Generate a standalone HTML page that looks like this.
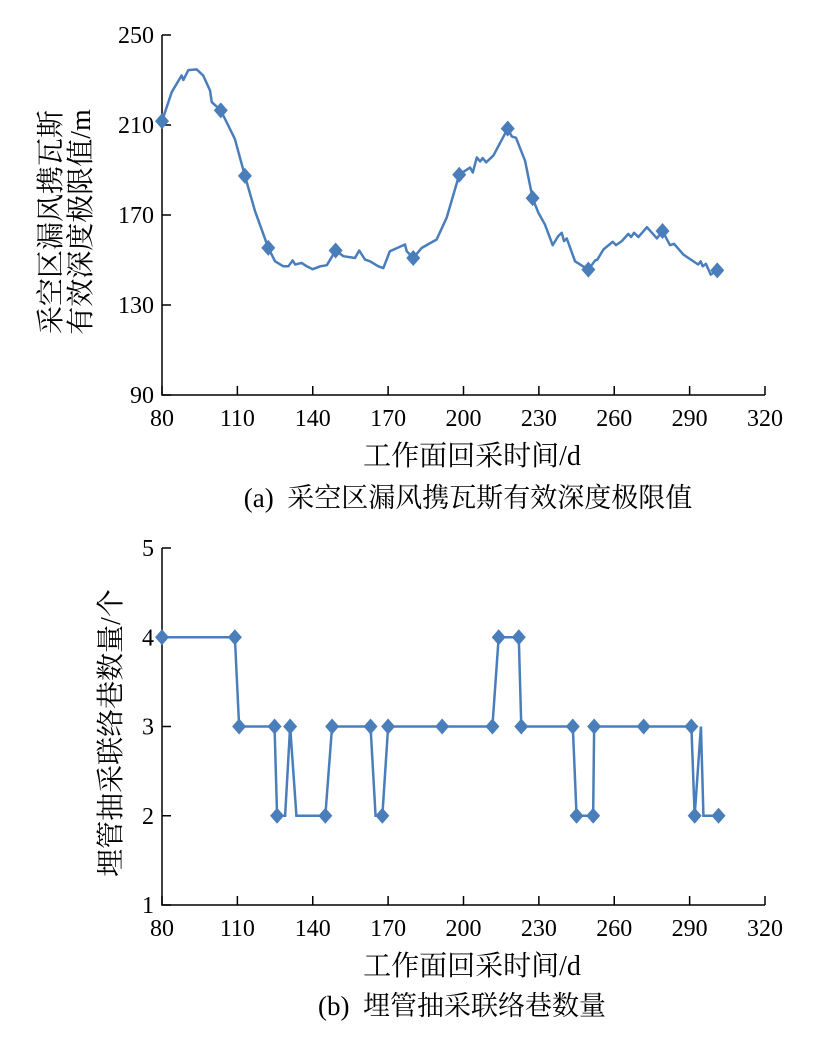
<!DOCTYPE html>
<html><head><meta charset="utf-8">
<style>
body{margin:0;background:#fff;}
svg{display:block;}
text{font-family:"Liberation Serif","Noto Serif CJK SC",serif;fill:#000;}
.cjk{font-family:"Liberation Serif","Noto Serif CJK SC","Noto Sans CJK SC",serif;}
</style></head>
<body>
<svg id="chart" width="813" height="1042" viewBox="0 0 813 1042">
<g id="top"></g>
<g id="bot"></g>
<text transform="translate(60,222) rotate(-90)" text-anchor="middle" font-size="28" class="cjk"><tspan x="0" y="0">采空区漏风携瓦斯</tspan></text>
<text transform="translate(90,222) rotate(-90)" text-anchor="middle" font-size="28" class="cjk"><tspan x="0" y="0">有效深度极限值/m</tspan></text>
<text x="472" y="465" text-anchor="middle" font-size="28" class="cjk">工作面回采时间/d</text>
<text x="468" y="507" text-anchor="middle" font-size="27" class="cjk">(a)&#160;&#160;采空区漏风携瓦斯有效深度极限值</text>
<text transform="translate(120,733) rotate(-90)" text-anchor="middle" font-size="28" class="cjk"><tspan x="0" y="0">埋管抽采联络巷数量/个</tspan></text>
<text x="472" y="975" text-anchor="middle" font-size="28" class="cjk">工作面回采时间/d</text>
<text x="462" y="1015" text-anchor="middle" font-size="27" class="cjk">(b)&#160;&#160;埋管抽采联络巷数量</text>
</svg>
<script>
const xTicks=[80,110,140,170,200,230,260,290,320];
const topYTicks=[90,130,170,210,250];
const topDays=[80,83.9,87.8,88.5,90.5,93.8,96.4,99.1,99.8,103.4,109,113,117,122.3,125,128.3,130.3,132,133,135.6,137.6,140,143,145.6,149.1,152.2,156.8,158.5,160.8,162.8,166.1,168.1,170.7,176.7,177.4,180,183.4,189.3,193.3,198.3,202.6,203.7,205.3,206.6,207.6,209,211.9,217.6,219.2,220.9,224.5,227.5,229.8,232.4,235.5,237.7,239.1,240,241.1,244.4,249.7,252.3,253.3,255.7,259.4,260.7,263,265.6,266.7,267.9,269.6,273,277,279.2,282.2,283.8,287.5,293.4,294.4,295.2,296.5,298.4,301];
const topValues=[211.7,224.7,232,230,234.4,234.7,232,225.4,220.2,216.5,203.8,187.4,171.8,155.4,149.4,147.2,147.2,149.8,148,148.7,147.2,145.9,147.2,147.7,154.2,151.7,150.9,154.2,150.2,149.4,147.2,146.4,153.9,156.9,153.9,150.9,155.4,159.1,168.8,187.9,191.1,188.9,195.6,193.8,195.3,193.4,196.4,208.4,204.9,204.3,194.1,177.5,171,165.8,156.6,160.6,162.1,158.4,159.6,149.4,145.7,149.7,150.2,154.7,158.1,156.6,158.4,161.6,160.2,162.1,160.2,164.6,159.6,162.9,156.6,157.2,152.4,148,149.4,147.2,148.3,143.5,145.4];
const topMarkerDays=[80,103.4,113,122.3,149.1,180,198.3,217.6,227.5,249.7,279.2,301];
const botYTicks=[1,2,3,4,5];
const botDays=[80,109,110.7,124.8,125.8,129,131,133.5,145,147.7,163,165,167.7,170,191.5,211.5,214,222,223,243.5,245,251.6,252,271.7,290.7,292,294.5,295.5,301.5];
const botValues=[4,4,3,3,2,2,3,2,2,3,3,2,2,3,3,3,4,4,3,3,2,2,3,3,3,2,3,2,2];
const botMarker=[1,1,1,1,1,0,1,0,1,1,1,0,1,1,1,1,1,1,1,1,1,1,1,1,1,1,0,0,1];
const NS='http://www.w3.org/2000/svg';
function mk(p,t,a){const e=document.createElementNS(NS,t);for(const k in a)e.setAttribute(k,a[k]);p.appendChild(e);return e;}
const X0=162,X1=765;
function xs(d){return X0+(d-80)/(320-80)*(X1-X0);}
function diamond(g,x,y){
  const d=mk(g,'path',{d:`M${x} ${y-8}L${x+7} ${y}L${x} ${y+8}L${x-7} ${y}Z`,fill:'#4a7ebb'});
  
  
}
function axes(g,ys,yTicks){
  const ax=mk(g,'path',{d:`M${X0} ${ys(yTicks[yTicks.length-1])}V${ys(yTicks[0])}H${X1}`,stroke:'#000','stroke-width':1.5,fill:'none'});
  
  
  yTicks.forEach(v=>{
    const y=ys(v);
    const l=mk(g,'line',{x1:X0,x2:X0+9,y1:y,y2:y,stroke:'#000','stroke-width':1.5});
    
    
    const t=mk(g,'text',{x:X0-8,y:y+8,'text-anchor':'end','font-size':24});
    t.textContent=v;
    
    
  });
  const yb=ys(yTicks[0]);
  xTicks.forEach(v=>{
    const x=xs(v);
    const l=mk(g,'line',{x1:x,x2:x,y1:yb,y2:yb-9,stroke:'#000','stroke-width':1.5});
    
    
    const t=mk(g,'text',{x:x,y:yb+31,'text-anchor':'middle','font-size':24});
    t.textContent=v;
    
    
  });
}
const gT=document.getElementById('top');
const ysT=v=>35+(250-v)/(250-90)*(395-35);
axes(gT,ysT,topYTicks);
const lt=mk(gT,'polyline',{points:topDays.map((d,i)=>xs(d)+','+ysT(topValues[i])).join(' '),fill:'none',stroke:'#4a7ebb','stroke-width':2.5,'stroke-linejoin':'round'});


topMarkerDays.forEach(d=>{
  let i=topDays.indexOf(d);
  diamond(gT,xs(d),ysT(topValues[i]));
});
const gB=document.getElementById('bot');
const ysB=v=>548+(5-v)/(5-1)*(905-548);
axes(gB,ysB,botYTicks);
const lb=mk(gB,'polyline',{points:botDays.map((d,i)=>xs(d)+','+ysB(botValues[i])).join(' '),fill:'none',stroke:'#4a7ebb','stroke-width':2.5});


botDays.forEach((d,i)=>{if(botMarker[i])diamond(gB,xs(d),ysB(botValues[i]));});
</script>
</body></html>
